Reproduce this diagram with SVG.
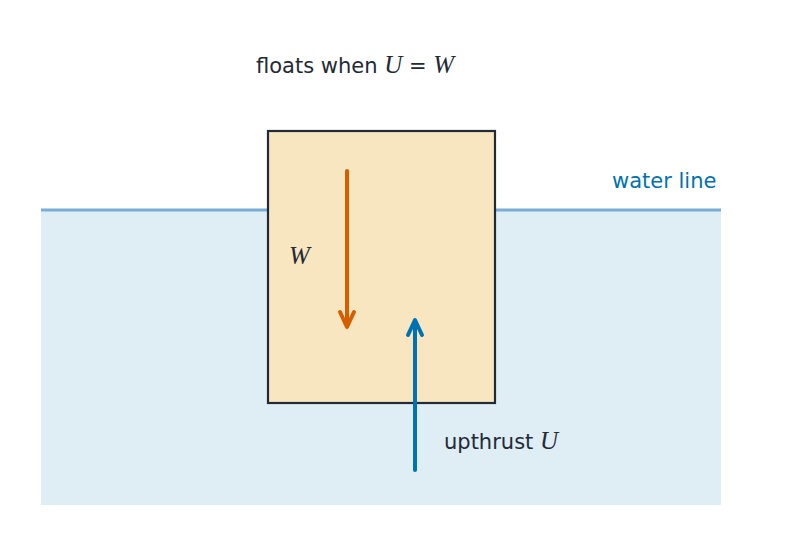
<svg xmlns="http://www.w3.org/2000/svg" width="785" height="546" viewBox="0 0 785 546">
<style>
.t{font-family:"DejaVu Sans","Liberation Sans",sans-serif;font-size:21px;fill:#232a35}
.m{font-family:"Liberation Serif",serif;font-style:italic;font-size:25px}
</style>
<defs>
<marker id="ao" markerWidth="6" markerHeight="6" refX="3" refY="3" orient="auto" markerUnits="userSpaceOnUse" viewBox="0 0 6 6" overflow="visible"><path d="M-6,-7 L3,3 L-6,13" transform="translate(0,0)" fill="none"/></marker>
</defs>
<rect width="785" height="546" fill="#fff"/>
<g id="water"><rect x="41" y="210" width="680" height="295" fill="#dfedf5"/>
<line x1="41" y1="210" x2="721" y2="210" stroke="#78aed6" stroke-width="3"/></g>
<g id="block"><rect x="268" y="131" width="227" height="272" fill="#f8e6c0" stroke="#232a35" stroke-width="2.2"/></g>
<g id="connectors" stroke-linecap="round" stroke-linejoin="round" fill="none" stroke-width="4">
<line x1="347" y1="171" x2="347" y2="326" stroke="#d55e00"/>
<path d="M340,312 L347,327 L354,312" stroke="#d55e00"/>
<line x1="415" y1="470" x2="415" y2="321" stroke="#0072b2"/>
<path d="M408,335 L415,320 L422,335" stroke="#0072b2"/>
</g>
<g id="labels">
<text class="t" x="256" y="73">floats when <tspan class="m">U</tspan> = <tspan class="m">W</tspan></text>
<text class="t" x="612" y="188" fill="#0072b2" style="fill:#0072b2">water line</text>
<text class="t m" x="289" y="264">W</text>
<text class="t" x="444" y="449">upthrust <tspan class="m">U</tspan></text>
</g>
</svg>
